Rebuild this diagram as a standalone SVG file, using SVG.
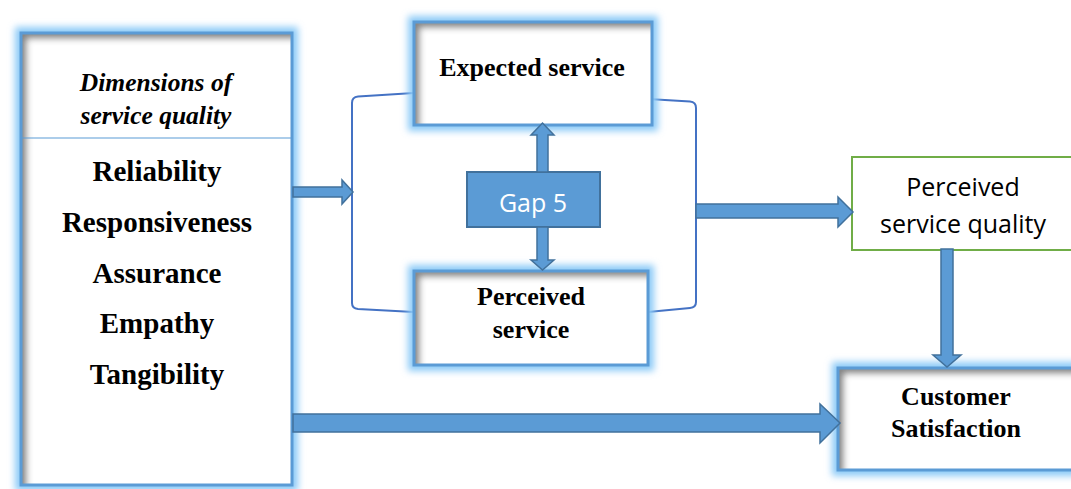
<svg xmlns="http://www.w3.org/2000/svg" width="1071" height="489" viewBox="0 0 1071 489">
<style>
.glow{fill:none;stroke:#8ccaf7;stroke-width:12;filter:url(#blur)}
.fillbox{fill:#fff;filter:url(#inset)}
.border{fill:none;stroke:#5b9bd5;stroke-width:3}
.lbl{font-family:"Liberation Serif","Times New Roman",serif;font-weight:bold;fill:#000;text-anchor:middle}
.ital{font-style:italic;font-size:25.5px}
.dim{font-size:26px}
.big{font-size:29px}
.cal{font-family:"Open Sans","Liberation Sans",sans-serif;font-size:25px;text-anchor:middle}
.arrow{fill:#5b9bd5;stroke:#41719c;stroke-width:1.5;stroke-linejoin:miter}
.bracket{fill:none;stroke:#4472c4;stroke-width:2}
</style>
<defs>
<filter id="blur" x="-20%" y="-20%" width="140%" height="140%">
<feGaussianBlur stdDeviation="3.5"/>
</filter>
<filter id="inset" x="-10%" y="-10%" width="120%" height="120%">
<feComponentTransfer in="SourceAlpha"><feFuncA type="table" tableValues="1 0"/></feComponentTransfer>
<feGaussianBlur stdDeviation="3"/>
<feOffset dx="6" dy="6" result="ob"/>
<feFlood flood-color="#3a3a3a" flood-opacity="0.8"/>
<feComposite in2="ob" operator="in"/>
<feComposite in2="SourceAlpha" operator="in" result="sh"/>
<feMerge><feMergeNode in="SourceGraphic"/><feMergeNode in="sh"/></feMerge>
</filter>
</defs>
<rect width="1071" height="489" fill="#fff"/>

<g id="brackets">
<path class="bracket" d="M414,93 L358,96.5 Q352,97 352,103 L352,303 Q352,308.5 358,309 L414,312"/>
<path class="bracket" d="M648,99 L690,101.5 Q696,102 696,108 L696,302 Q696,307.5 690,308 L648,312"/>
</g>

<g id="dimensions">
<rect class="glow" x="21" y="33" width="271" height="452"/>
<rect class="fillbox" x="21" y="33" width="271" height="452"/>
<rect class="border" x="21" y="33" width="271" height="452"/>
<line x1="21" y1="138" x2="292" y2="138" stroke="#5b9bd5" stroke-width="1.2"/>
<text class="lbl ital" x="156" y="91">Dimensions of</text>
<text class="lbl ital" x="156" y="124">service quality</text>
<text class="lbl big" x="157" y="181">Reliability</text>
<text class="lbl big" x="157" y="232">Responsiveness</text>
<text class="lbl big" x="157" y="283">Assurance</text>
<text class="lbl big" x="157" y="333">Empathy</text>
<text class="lbl big" x="157" y="384">Tangibility</text>
</g>

<g id="expected">
<rect class="glow" x="414" y="22" width="238" height="103"/>
<rect class="fillbox" x="414" y="22" width="238" height="103"/>
<rect class="border" x="414" y="22" width="238" height="103"/>
<text class="lbl dim" x="532" y="76">Expected service</text>
</g>

<g id="perceived">
<rect class="glow" x="414" y="271" width="234" height="94"/>
<rect class="fillbox" x="414" y="271" width="234" height="94"/>
<rect class="border" x="414" y="271" width="234" height="94"/>
<text class="lbl dim" x="531" y="305">Perceived</text>
<text class="lbl dim" x="531" y="338">service</text>
</g>

<g id="gap5">
<rect x="467" y="172" width="133" height="55" fill="#5b9bd5" stroke="#41719c" stroke-width="2"/>
<text class="cal" x="533" y="212" fill="#fff">Gap 5</text>
</g>

<g id="psq">
<rect x="852" y="157" width="230" height="93" fill="#fff" stroke="#70ad47" stroke-width="2"/>
<text class="cal" x="963" y="196" fill="#000">Perceived</text>
<text class="cal" x="963" y="233" fill="#000">service quality</text>
</g>

<g id="customer">
<rect class="glow" x="838" y="368" width="245" height="102"/>
<rect class="fillbox" x="838" y="368" width="245" height="102"/>
<rect class="border" x="838" y="368" width="245" height="102"/>
<text class="lbl dim" x="956" y="405">Customer</text>
<text class="lbl dim" x="956" y="437">Satisfaction</text>
</g>

<g id="connectors">
<polygon class="arrow" points="293,187 342,187 342,180 353,192 342,204 342,197 293,197"/>
<polygon class="arrow" points="537,172 537,135 531,135 542.5,123 554,135 548,135 548,172"/>
<polygon class="arrow" points="537,227 537,260 531,260 542.5,270 554,260 548,260 548,227"/>
<polygon class="arrow" points="696,204 838,204 838,197 853,212 838,227 838,218 696,218"/>
<polygon class="arrow" points="941,249 953,249 953,355 961,355 947,367 933,355 941,355"/>
<polygon class="arrow" points="293,414 820,414 820,404 840,423 820,443 820,432 293,432"/>
</g>
</svg>
